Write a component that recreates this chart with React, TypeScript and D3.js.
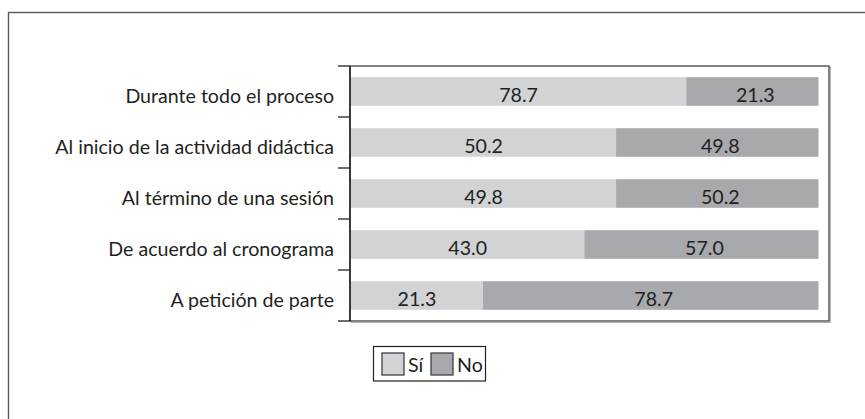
import React, { useEffect, useRef } from 'react';
import * as d3 from 'd3';

// categories, top to bottom
const categories = [
  'Durante todo el proceso',
  'Al inicio de la actividad didáctica',
  'Al término de una sesión',
  'De acuerdo al cronograma',
  'A petición de parte',
];

// printed labels
const siLabels = ['78.7', '50.2', '49.8', '43.0', '21.3'];
const noLabels = ['21.3', '49.8', '50.2', '57.0', '78.7'];

// share of the bar drawn as "Sí" (in %)
const siShare = [71.7, 56.7, 56.7, 49.9, 28.2];

const seriesNames = ['Sí', 'No'];

const App = () => {
  const svgRef = useRef(null);

  useEffect(() => {
    const width = 865;
    const height = 419;
    const font = 'Lato, "Open Sans", sans-serif';
    const textColor = '#231f20';
    const colors = ['#d1d3d4', '#a7a9ac'];

    const plot = { left: 350, right: 829, top: 66, bottom: 321 };

    const svg = d3.select(svgRef.current);
    svg.selectAll('*').remove();
    svg.attr('width', width).attr('height', height).attr('viewBox', [0, 0, width, height]);

    const data = categories.map((c, i) => ({
      cat: c,
      si: siShare[i],
      no: 100 - siShare[i],
      siLabel: siLabels[i],
      noLabel: noLabels[i],
    }));

    // outer frame (runs off the page on the right and bottom)
    svg.append('rect')
      .attr('x', 8.5)
      .attr('y', 12.5)
      .attr('width', 900)
      .attr('height', 450)
      .attr('fill', 'none')
      .attr('stroke', '#58595b')
      .attr('stroke-width', 1.4);

    const x = d3.scaleLinear()
      .domain([0, 100])
      .range([351, 818.5]);

    const y = d3.scaleBand()
      .domain(categories)
      .range([plot.top, plot.bottom])
      .paddingInner(0.44)
      .paddingOuter(0.22);

    // plot area with a soft shadow
    svg.append('rect')
      .attr('x', plot.left + 1.5)
      .attr('y', plot.top + 1.5)
      .attr('width', plot.right - plot.left)
      .attr('height', plot.bottom - plot.top)
      .attr('fill', 'none')
      .attr('stroke', '#b3b3b3')
      .attr('stroke-width', 1);

    svg.append('rect')
      .attr('x', plot.left)
      .attr('y', plot.top)
      .attr('width', plot.right - plot.left)
      .attr('height', plot.bottom - plot.top)
      .attr('fill', 'white')
      .attr('stroke', '#414042')
      .attr('stroke-width', 1.3);

    // stacked bars
    const rows = svg.append('g')
      .selectAll('g')
      .data(data)
      .join('g');

    rows.append('rect')
      .attr('x', x(0))
      .attr('y', d => y(d.cat))
      .attr('width', d => x(d.si) - x(0))
      .attr('height', y.bandwidth())
      .attr('fill', colors[0]);

    rows.append('rect')
      .attr('x', d => x(d.si))
      .attr('y', d => y(d.cat))
      .attr('width', d => x(100) - x(d.si))
      .attr('height', y.bandwidth())
      .attr('fill', colors[1]);

    // value labels
    rows.append('text')
      .attr('x', d => (x(0) + x(d.si)) / 2)
      .attr('y', d => y(d.cat) + y.bandwidth() / 2 + 10)
      .attr('text-anchor', 'middle')
      .attr('font-family', font)
      .attr('font-size', 19.6)
      .attr('fill', textColor)
      .text(d => d.siLabel);

    rows.append('text')
      .attr('x', d => (x(d.si) + x(100)) / 2 + 3)
      .attr('y', d => y(d.cat) + y.bandwidth() / 2 + 10)
      .attr('text-anchor', 'middle')
      .attr('font-family', font)
      .attr('font-size', 19.6)
      .attr('fill', textColor)
      .text(d => d.noLabel);

    // category axis: ticks sit on the band boundaries
    const step = y.step();
    const ticks = d3.range(categories.length + 1).map(i => plot.top + i * step);

    svg.append('g')
      .selectAll('line')
      .data(ticks)
      .join('line')
      .attr('x1', plot.left - 12)
      .attr('x2', plot.left)
      .attr('y1', d => d)
      .attr('y2', d => d)
      .attr('stroke', '#231f20')
      .attr('stroke-width', 1.3);

    svg.append('line')
      .attr('x1', plot.left)
      .attr('x2', plot.left)
      .attr('y1', plot.top)
      .attr('y2', plot.bottom)
      .attr('stroke', '#231f20')
      .attr('stroke-width', 1.5);

    svg.append('g')
      .selectAll('text')
      .data(categories)
      .join('text')
      .attr('x', 334)
      .attr('y', d => y(d) + y.bandwidth() / 2 + 11)
      .attr('text-anchor', 'end')
      .attr('font-family', font)
      .attr('font-size', 19.6)
      .attr('fill', textColor)
      .text(d => d);

    // legend
    const legend = svg.append('g');

    legend.append('rect')
      .attr('x', 373.5)
      .attr('y', 346.5)
      .attr('width', 112)
      .attr('height', 34.5)
      .attr('fill', 'white')
      .attr('stroke', '#231f20')
      .attr('stroke-width', 1.2);

    const items = legend.selectAll('g.item')
      .data(seriesNames)
      .join('g')
      .attr('class', 'item')
      .attr('transform', (d, i) => `translate(${382 + i * 49},353)`);

    items.append('rect')
      .attr('width', 22)
      .attr('height', 22)
      .attr('fill', (d, i) => colors[i])
      .attr('stroke', '#414042')
      .attr('stroke-width', 1.3);

    items.append('text')
      .attr('x', 26)
      .attr('y', 18.5)
      .attr('font-family', font)
      .attr('font-size', 19.6)
      .attr('fill', textColor)
      .text(d => d);
  });

  return (
    <svg ref={svgRef} style={{ position: 'absolute', left: 0, top: 0 }}></svg>
  );
};

export default App;
